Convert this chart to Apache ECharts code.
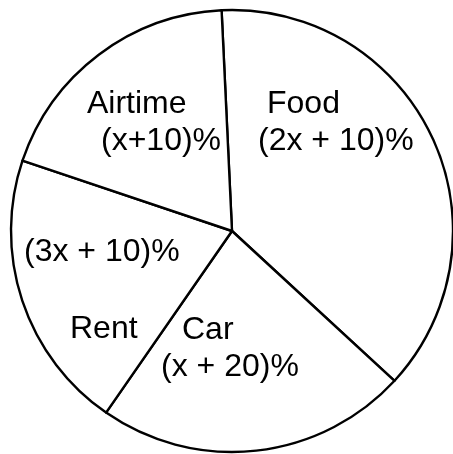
<!DOCTYPE html>
<html>
<head>
<meta charset="utf-8">
<script src="https://cdn.jsdelivr.net/npm/echarts@6/dist/echarts.min.js"></script>
<style>
  html, body { margin: 0; padding: 0; background: #fff; }
  #chart { width: 453px; height: 454px; }
</style>
</head>
<body>
<div id="chart"></div>
<script>
// Monthly spending split (sketch, not to scale); share of the circle per item
const categories = ['Food', 'Car', 'Rent', 'Airtime'];
const shares = [37.6, 22.8, 20.5, 19.1];
const expressions = ['(2x + 10)%', '(x + 20)%', '(3x + 10)%', '(x+10)%'];

const FONT = '"Liberation Sans", Arial, sans-serif';
const SIZE = 32;

// Label text blocks, one per slice, with per-line indents
const labelText = {
  Food: '{t|{n}}\n{b0|{e}}',
  Car: '{t2|{n}}\n{b20|{e}}',
  Rent: '{b0|{e}}\n{gap| }\n{t45|{n}}',
  Airtime: '{t0|{n}}\n{b14|{e}}'
};
// Top-left corner of each label block
const labelPos = {
  Food: [258, 86],
  Car: [161, 312],
  Rent: [24, 234],
  Airtime: [87, 86]
};

function tok(pad) {
  return { fontFamily: FONT, fontSize: SIZE, color: '#000', lineHeight: 37, padding: [0, 0, 0, pad] };
}

const chart = echarts.init(document.getElementById('chart'), null, { renderer: 'canvas' });
chart.setOption({
  animation: false,
  backgroundColor: '#fff',
  series: [{
    type: 'pie',
    center: [232, 231],
    radius: 221,
    startAngle: 92.7,
    clockwise: true,
    avoidLabelOverlap: false,
    silent: true,
    itemStyle: { color: '#fff', borderColor: '#000', borderWidth: 2.4 },
    label: {
      show: true,
      position: 'inside',
      align: 'left',
      verticalAlign: 'top',
      formatter: p => labelText[p.name]
        .replace('{n}', p.name)
        .replace('{e}', expressions[p.dataIndex]),
      rich: {
        t: tok(9), t0: tok(0), t2: tok(21), t45: tok(46),
        b0: tok(0), b14: tok(14), b20: tok(0),
        gap: { fontSize: 10, lineHeight: 40 }
      }
    },
    labelLayout: p => {
      const name = categories[p.dataIndex];
      return { x: labelPos[name][0], y: labelPos[name][1], align: 'left', verticalAlign: 'top' };
    },
    labelLine: { show: false },
    data: categories.map((c, i) => ({ name: c, value: shares[i] }))
  }]
});
</script>
</body>
</html>
